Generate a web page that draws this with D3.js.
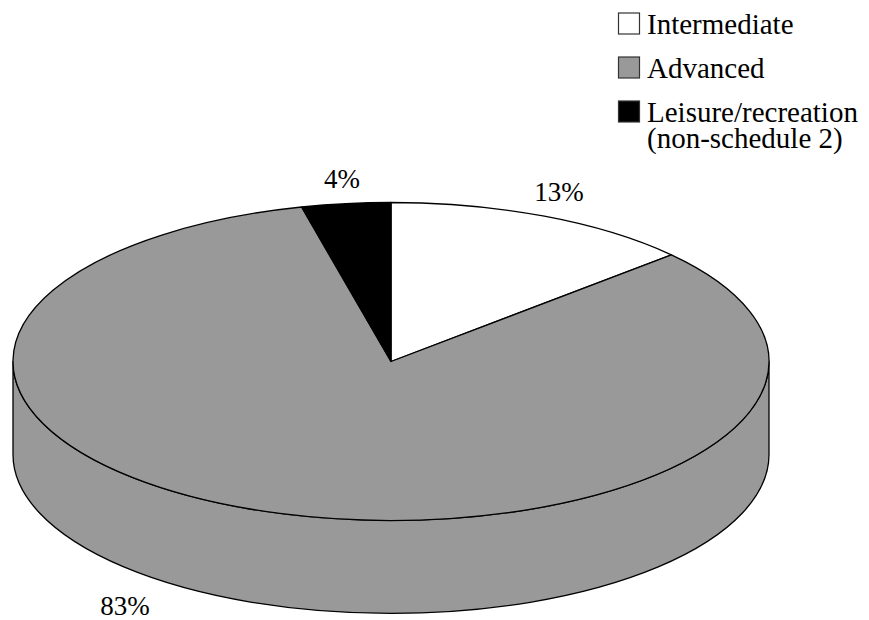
<!DOCTYPE html>
<html>
<head>
<meta charset="utf-8">
<script src="https://cdn.jsdelivr.net/npm/d3@7"></script>
<style>
  html, body { margin: 0; padding: 0; background: #fff; }
  svg { display: block; }
  text { font-family: "Liberation Serif", "Times New Roman", serif; fill: #000; }
</style>
</head>
<body>
<svg id="chart" width="869" height="620"></svg>
<script>
// ---- data ----
const categories = ["Intermediate", "Advanced", "Leisure/recreation (non-schedule 2)"];
const legendLines = [["Intermediate"], ["Advanced"], ["Leisure/recreation", "(non-schedule 2)"]];
const values = [13.3, 82.9, 3.8];
const percentLabels = ["13%", "83%", "4%"];
const colors = ["#ffffff", "#999999", "#000000"];

// ---- layout ----
const W = 869, H = 620;
const cx = 391, cy = 361.5, rx = 378, ry = 159, depth = 93;
const labelPos = [[559, 201], [125, 615], [342, 188]];

const svg = d3.select("#chart");

const pie = d3.pie().sort(null).value(d => d)(values);
const px = t => cx + rx * Math.sin(t);
const py = t => cy - ry * Math.cos(t);

// side walls (front half only: angles between PI/2 and 3PI/2)
const sideG = svg.append("g");
pie.forEach((p, i) => {
  const s0 = Math.max(p.startAngle, Math.PI / 2);
  const s1 = Math.min(p.endAngle, 3 * Math.PI / 2);
  if (s0 >= s1) return;
  const path = `M${px(s0)},${py(s0)} A${rx},${ry} 0 0 1 ${px(s1)},${py(s1)}` +
    ` L${px(s1)},${py(s1) + depth} A${rx},${ry} 0 0 0 ${px(s0)},${py(s0) + depth} Z`;
  sideG.append("path")
    .attr("d", path)
    .attr("fill", colors[i])
    .attr("stroke", "#000")
    .attr("stroke-width", 1.3)
    .attr("stroke-linejoin", "round");
});

// top slices
const topG = svg.append("g");
pie.forEach((p, i) => {
  const t0 = p.startAngle, t1 = p.endAngle;
  const large = (t1 - t0) > Math.PI ? 1 : 0;
  const path = `M${cx},${cy} L${px(t0)},${py(t0)} A${rx},${ry} 0 ${large} 1 ${px(t1)},${py(t1)} Z`;
  topG.append("path")
    .attr("d", path)
    .attr("fill", colors[i])
    .attr("stroke", "#000")
    .attr("stroke-width", 1.3)
    .attr("stroke-linejoin", "round");
});

// percent labels
svg.append("g").selectAll("text")
  .data(percentLabels)
  .join("text")
  .attr("x", (d, i) => labelPos[i][0])
  .attr("y", (d, i) => labelPos[i][1])
  .attr("text-anchor", "middle")
  .attr("font-size", 27)
  .text(d => d);

// legend
const lg = svg.append("g");
const legendX = 618.5, legendBase0 = 33.5, legendStep = 44, lineH = 26, box = 21;
categories.forEach((c, i) => {
  const base = legendBase0 + i * legendStep;
  lg.append("rect")
    .attr("x", legendX)
    .attr("y", base - 20.5)
    .attr("width", box)
    .attr("height", box)
    .attr("fill", colors[i])
    .attr("stroke", "#333")
    .attr("stroke-width", 1.2);
  const t = lg.append("text")
    .attr("x", 647)
    .attr("y", base)
    .attr("font-size", 29);
  legendLines[i].forEach((ln, j) => {
    t.append("tspan")
      .attr("x", 647)
      .attr("dy", j === 0 ? 0 : lineH)
      .text(ln);
  });
});
</script>
</body>
</html>
